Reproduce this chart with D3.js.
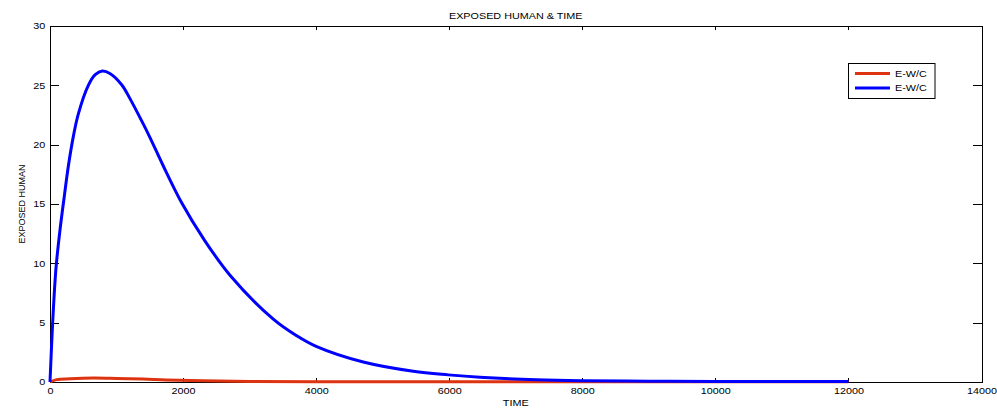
<!DOCTYPE html>
<html lang="en">
<head>
<meta charset="utf-8">
<title>EXPOSED HUMAN & TIME</title>
<style>
  body { margin: 0; background: #fff; }
  svg { display: block; }
  text { font-family: Arial, "Liberation Sans", Helvetica, sans-serif; fill: #000; }
  .axis path, .axis line { stroke: #000; stroke-width: 1px; shape-rendering: crispEdges; }
  .axis text { font-size: 9px; fill: #000; }
</style>
</head>
<body>
<svg width="997" height="408" id="vis"></svg>
<script src="https://cdn.jsdelivr.net/npm/d3@7/dist/d3.min.js"></script>
<script>

// values
var xTicks = [0, 2000, 4000, 6000, 8000, 10000, 12000, 14000];
var yTicks = [0, 5, 10, 15, 20, 25, 30];

var blueTime = [0, 40, 90, 150, 216, 276, 351, 426, 576, 680, 786, 900, 1077, 1200, 1378, 1503, 1703, 1979, 2304, 2705, 3356, 3707, 4000, 4708, 5460, 5986, 6461, 7313, 8000, 9000, 10000, 12000];
var blueVal  = [0, 5, 9.6, 12.8, 15.7, 18.2, 20.7, 22.6, 25.0, 25.9, 26.2, 26.0, 25.05, 23.9, 22.0, 20.6, 18.2, 15.1, 12.1, 9.0, 5.3, 3.9, 3.0, 1.68, 0.9, 0.6, 0.4, 0.19, 0.11, 0.07, 0.05, 0.05];

var redTime = [0, 100, 300, 650, 1000, 1400, 1750, 2300, 3000, 4000, 6000, 8000, 12000];
var redVal  = [0, 0.2, 0.27, 0.33, 0.3, 0.25, 0.17, 0.1, 0.05, 0.03, 0.02, 0.02, 0.02];

var legendNames = ["E-W/C", "E-W/C"];
var colors = ["#dd3311", "#0000ff"];

var svg = d3.select("svg"),
    plotLeft = 50, plotRight = 981.5, plotTop = 26, plotBottom = 382,
    stretch = 1.2;

var x = d3.scaleLinear().domain([0, 14000]).range([plotLeft, plotRight]);
var y = d3.scaleLinear().domain([0, 30]).range([plotBottom, plotTop]);

svg.append("rect").attr("width", 997).attr("height", 408).attr("fill", "#fff");

// axes, MATLAB style ticks pointing inward on all four sides
svg.append("g").attr("class", "axis")
    .attr("transform", "translate(0," + plotBottom + ")")
    .call(d3.axisBottom(x).tickValues(xTicks).tickSize(-4).tickSizeOuter(0).tickPadding(5.5).tickFormat(d3.format("d")))
    .selectAll("text").attr("transform", "scale(" + stretch + ",1)");

svg.append("g").attr("class", "axis")
    .attr("transform", "translate(0," + plotTop + ")")
    .call(d3.axisTop(x).tickValues(xTicks).tickSize(-4).tickSizeOuter(0).tickFormat(""));

svg.append("g").attr("class", "axis")
    .attr("transform", "translate(" + plotLeft + ",0)")
    .call(d3.axisLeft(y).tickValues(yTicks).tickSize(-9).tickSizeOuter(0).tickPadding(4).tickFormat(d3.format("d")))
    .selectAll("text").attr("transform", "scale(" + stretch + ",1)");

svg.append("g").attr("class", "axis")
    .attr("transform", "translate(" + plotRight + ",0)")
    .call(d3.axisRight(y).tickValues(yTicks).tickSize(-9).tickSizeOuter(0).tickFormat(""));

var line = d3.line()
    .x(function(d) { return x(d[0]); })
    .y(function(d) { return y(d[1]); })
    .curve(d3.curveCatmullRom.alpha(0.5));

var series = [d3.zip(redTime, redVal), d3.zip(blueTime, blueVal)];

svg.selectAll(".series")
  .data(series)
  .enter().append("path")
    .attr("class", "series")
    .attr("fill", "none")
    .attr("stroke", function(d, i) { return colors[i]; })
    .attr("stroke-width", 3)
    .attr("stroke-linejoin", "round")
    .attr("d", line);

// title and labels
svg.append("text")
    .attr("transform", "translate(" + ((plotLeft + plotRight) / 2) + ",19.3) scale(" + stretch + ",1)")
    .attr("text-anchor", "middle")
    .style("font-size", "9px")
    .text("EXPOSED HUMAN & TIME");

svg.append("text")
    .attr("transform", "translate(" + ((plotLeft + plotRight) / 2) + ",406) scale(" + stretch + ",1)")
    .attr("text-anchor", "middle")
    .style("font-size", "9px")
    .text("TIME");

svg.append("text")
    .attr("transform", "translate(24.5," + ((plotTop + plotBottom) / 2) + ") rotate(-90)")
    .attr("text-anchor", "middle")
    .style("font-size", "9px")
    .text("EXPOSED HUMAN");

// legend
var legend = svg.append("g").attr("transform", "translate(848.5,63.5)");

legend.append("rect")
    .attr("width", 86.5).attr("height", 35)
    .attr("fill", "#fff").attr("stroke", "#000").attr("stroke-width", 1);

var item = legend.selectAll(".item")
  .data(legendNames)
  .enter().append("g")
    .attr("class", "item")
    .attr("transform", function(d, i) { return "translate(0," + (10 + i * 14.4) + ")"; });

item.append("line")
    .attr("x1", 6.5).attr("x2", 41.5)
    .attr("stroke", function(d, i) { return colors[i]; })
    .attr("stroke-width", 3);

item.append("text")
    .attr("transform", "translate(46.5,3.2) scale(" + stretch + ",1)")
    .style("font-size", "9px")
    .text(function(d) { return d; });

</script>
</body>
</html>
